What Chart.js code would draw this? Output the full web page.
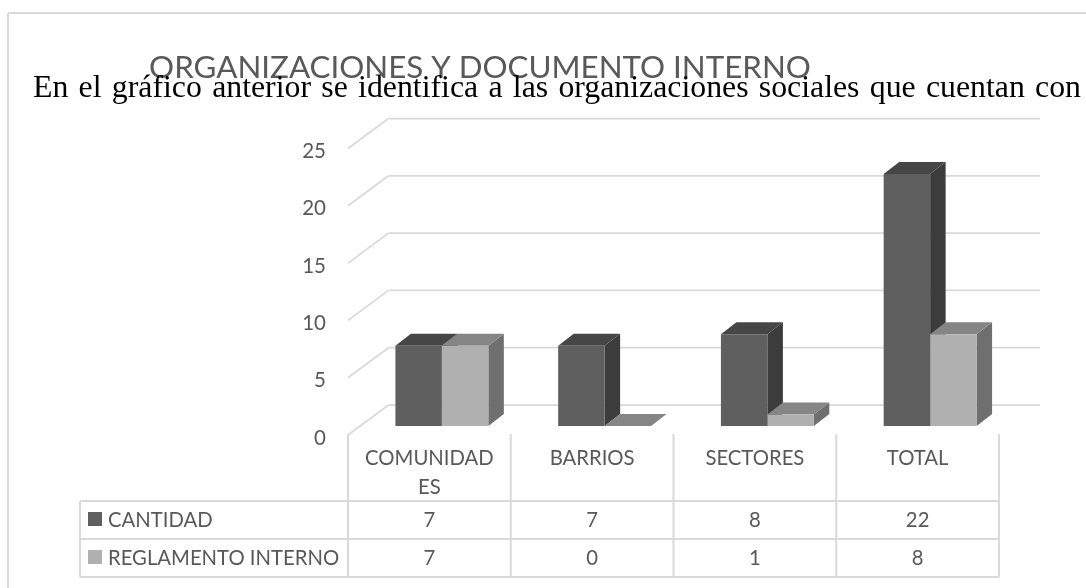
<!DOCTYPE html>
<html>
<head>
<meta charset="utf-8">
<script src="https://cdn.jsdelivr.net/npm/chart.js@4"></script>
<style>
    html, body { margin: 0; padding: 0; background: #fff; overflow: hidden; }
    #wrap { position: relative; width: 1086px; height: 588px; }
    #overText {
        position: absolute; left: 33px; top: 69px; width: 1048px;
        font: 31.8px "Liberation Serif", serif; color: #000;
        white-space: nowrap; text-align: justify; text-align-last: justify;
    }
</style>
</head>
<body>
<div id="wrap">
    <canvas id="orgChart" width="1086" height="588"></canvas>
    <div id="overText">En el gráfico anterior se identifica a las organizaciones sociales que cuentan con</div>
</div>
<script>
const categories = [['COMUNIDAD', 'ES'], ['BARRIOS'], ['SECTORES'], ['TOTAL']];
const cantidad = [7, 7, 8, 22];
const reglamento = [7, 0, 1, 8];
const yTicks = [0, 5, 10, 15, 20, 25];
const seriesNames = ['CANTIDAD', 'REGLAMENTO INTERNO'];
const chartTitle = 'ORGANIZACIONES Y DOCUMENTO INTERNO';

const GRID = '#d9d9d9';
const TEXT = '#595959';
const FONT = 'Lato, "Open Sans", sans-serif';
const frontColors = ['#5f5f5f', '#b0b0b0'];
const topColors = ['#464646', '#858585'];
const sideColors = ['#3c3c3c', '#6f6f6f'];

// offsets of the 3D box, measured from the plane the bars stand on
const depth = { x: 15.5, y: 12 };
const frontPlane = { x: -12.5, y: 9 };
const backPlane = { x: 28, y: -21 };

function line(ctx, x1, y1, x2, y2) {
    ctx.beginPath();
    ctx.moveTo(x1, y1);
    ctx.lineTo(x2, y2);
    ctx.stroke();
}

function face(ctx, color, pts) {
    ctx.fillStyle = color;
    ctx.beginPath();
    pts.forEach((p, i) => i ? ctx.lineTo(p[0], p[1]) : ctx.moveTo(p[0], p[1]));
    ctx.closePath();
    ctx.fill();
}

const boxPlugin = {
    id: 'box3d',
    beforeDatasetsDraw(chart) {
        const ctx = chart.ctx;
        const x = chart.scales.x;
        const y = chart.scales.y;
        const area = chart.chartArea;
        const colWidth = x.width / categories.length;

        ctx.save();

        // frame of the chart
        ctx.strokeStyle = GRID;
        ctx.lineWidth = 2;
        line(ctx, 8, 13, 1086, 13);
        line(ctx, 8, 13, 8, 588);

        // title
        ctx.fillStyle = TEXT;
        ctx.font = '31.3px ' + FONT;
        ctx.textAlign = 'center';
        ctx.textBaseline = 'alphabetic';
        ctx.fillText(chartTitle, 480, 77.5);

        // gridlines on wall and floor, value labels
        ctx.lineWidth = 1.75;
        ctx.font = '20.5px ' + FONT;
        yTicks.forEach(t => {
            const py = y.getPixelForValue(t);
            const fx = area.left + frontPlane.x;
            const bx = area.left + backPlane.x;
            line(ctx, fx, py + frontPlane.y, bx, py + backPlane.y);
            line(ctx, bx, py + backPlane.y, 1040, py + backPlane.y);
            ctx.textAlign = 'right';
            ctx.textBaseline = 'middle';
            ctx.fillText(String(t), 326, py + frontPlane.y + 3);
        });

        // data table under the axis
        ctx.lineWidth = 2;
        const tableLeft = 80;
        const tableRight = area.right + frontPlane.x;
        const rows = [501, 539, 577];
        rows.forEach(r => line(ctx, tableLeft, r, tableRight, r));
        line(ctx, tableLeft, rows[0], tableLeft, rows[2]);
        for (let i = 0; i <= categories.length; i++) {
            const cx = area.left + frontPlane.x + i * colWidth;
            line(ctx, cx, 434, cx, rows[2]);
        }

        ctx.textAlign = 'center';
        ctx.font = '20.3px ' + FONT;
        categories.forEach((label, i) => {
            const cx = area.left + frontPlane.x + (i + 0.5) * colWidth;
            label.forEach((part, j) => ctx.fillText(part, cx, 458 + j * 29));
            ctx.fillText(String(cantidad[i]), cx, 520);
            ctx.fillText(String(reglamento[i]), cx, 558);
        });

        seriesNames.forEach((name, i) => {
            ctx.fillStyle = frontColors[i];
            ctx.fillRect(88, 512 + i * 38, 14, 14);
            ctx.fillStyle = TEXT;
            ctx.textAlign = 'left';
            ctx.fillText(name, 108, 520 + i * 38);
        });

        // top and side faces, the fronts are the real bars drawn after this
        chart.data.datasets.forEach((ds, d) => {
            chart.getDatasetMeta(d).data.forEach(bar => {
                const l = bar.x - bar.width / 2;
                const r = bar.x + bar.width / 2;
                const top = bar.y;
                const base = bar.base;
                face(ctx, sideColors[d], [[r, top], [r + depth.x, top - depth.y], [r + depth.x, base - depth.y], [r, base]]);
                face(ctx, topColors[d], [[l, top], [l + depth.x, top - depth.y], [r + depth.x, top - depth.y], [r, top]]);
            });
        });

        ctx.restore();
    }
};

new Chart(document.getElementById('orgChart'), {
    type: 'bar',
    data: {
        labels: categories,
        datasets: [
            { label: seriesNames[0], data: cantidad, backgroundColor: frontColors[0] },
            { label: seriesNames[1], data: reglamento, backgroundColor: frontColors[1] }
        ]
    },
    options: {
        responsive: false,
        animation: false,
        layout: { padding: { left: 360.5, right: 74.5, top: 139.5, bottom: 162 } },
        datasets: { bar: { categoryPercentage: 0.571, barPercentage: 1 } },
        plugins: { legend: { display: false }, title: { display: false }, tooltip: { enabled: false } },
        scales: {
            x: { display: false },
            y: { display: false, min: 0, max: 25 }
        }
    },
    plugins: [boxPlugin]
});
</script>
</body>
</html>
